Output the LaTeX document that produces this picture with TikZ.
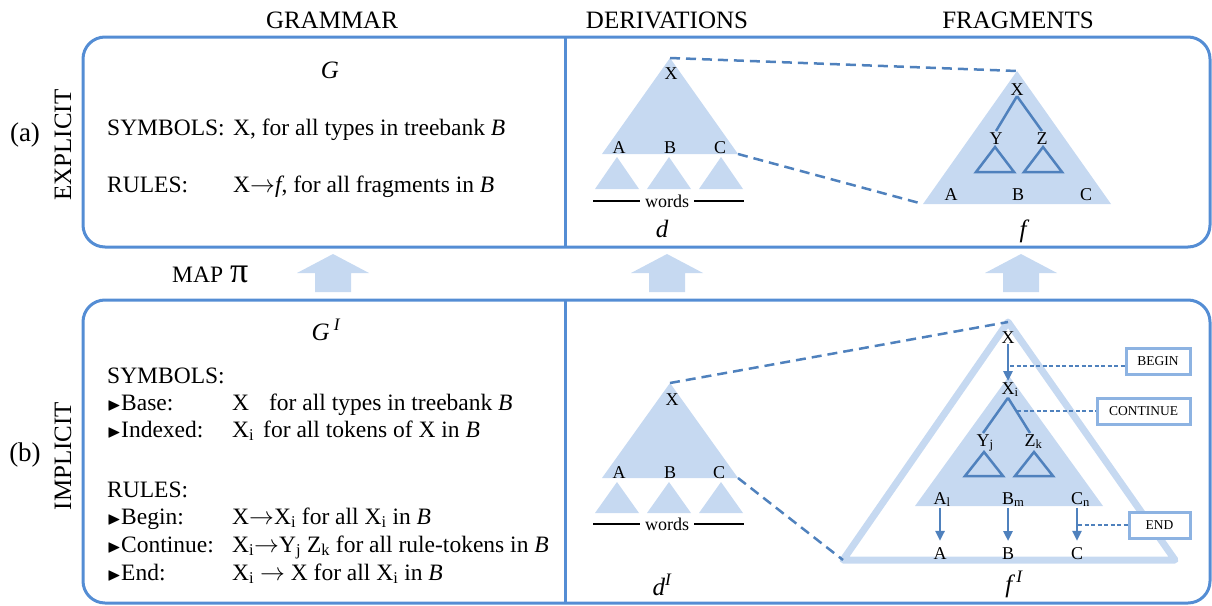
\documentclass[tikz,border=0pt]{standalone}
\usepackage{amssymb}
\usepackage{fontspec}
\setmainfont{Liberation Serif}
\usetikzlibrary{arrows.meta}
\definecolor{boxblue}{HTML}{548DD4}
\definecolor{lineblue}{HTML}{4F81BD}
\definecolor{lightblue}{HTML}{C6D9F1}
\definecolor{tagblue}{HTML}{8DB3E2}
\newcommand{\bul}{{\fontsize{18}{18}\selectfont$\blacktriangleright$}}
\newcommand{\rarr}{{\fontsize{23}{23}\selectfont$\rightarrow$}}

\begin{document}
\begin{tikzpicture}[x=1pt, y=-1pt, font=\fontsize{23.5}{28}\selectfont,
    panel/.style={draw=boxblue, line width=3pt, rounded corners=22pt},
    coltitle/.style={font=\fontsize{25}{30}\selectfont, anchor=base},
    rowlbl/.style={font=\fontsize{27}{30}\selectfont},
    sidelbl/.style={font=\fontsize{25}{30}\selectfont, rotate=90},
    txt/.style={anchor=base west, inner sep=0pt},
    ital/.style={font=\fontsize{25}{30}\selectfont\itshape, anchor=base},
    lbl/.style={font=\fontsize{18}{21}\selectfont, anchor=base, inner sep=1pt},
    tag/.style={draw=tagblue, line width=3pt, fill=white, font=\fontsize{13.5}{15}\selectfont,
      anchor=east, minimum height=26pt, inner sep=2pt},
    zoomline/.style={draw=lineblue, line width=2.5pt, dash pattern=on 10pt off 6pt},
    tagline/.style={draw=lineblue, line width=1.5pt, dash pattern=on 4pt off 2.5pt},
    branch/.style={draw=lineblue, line width=2.5pt},
    flow/.style={branch, -{Triangle[length=10pt, width=9pt]}},
    subtree/.style={draw=lineblue, line width=2.5pt}]
  \useasboundingbox (0,0) rectangle (1212,605);
  % Panels and column split
  \draw[panel] (83,37) rectangle (1210,247);
  \draw[panel] (83,300) rectangle (1210,603);
  \draw[boxblue, line width=3pt] (565,37) -- (565,247);
  \draw[boxblue, line width=3pt] (565,300) -- (565,603);
  % Column titles
  \node[coltitle] (tgram) at (332,28)  {GRAMMAR};
  \node[coltitle] (tderiv) at (667,28) {DERIVATIONS};
  \node[coltitle] (tfrag) at (1018,28) {FRAGMENTS};
  % Row labels
  \node[rowlbl] (rowa) at (25,135) {(a)};
  \node[rowlbl] (rowb) at (25,455) {(b)};
  \node[sidelbl] (sidea) at (63,145) {EXPLICIT};
  \node[sidelbl] (sideb) at (63,456) {IMPLICIT};
  % Explicit grammar
  \node[ital] (gram) at (330,78) {G};
  \node[txt] (symtop) at (107,135) {SYMBOLS:};
  \node[txt] (symtopdef) at (233,135) {X, for all types in treebank \textit{B}};
  \node[txt] (ruletop) at (107,192) {RULES:};
  \node[txt] (ruletopdef) at (233,192) {X\rarr\textit{f}, for all fragments in \textit{B}};
  % Implicit grammar
  \node[ital] (gramimp) at (326,340) {G\,\textsuperscript{I}};
  \node[txt] (symhead) at (107,383) {SYMBOLS:};
  \node[txt] (symbase) at (107,410) {\bul Base:};
  \node[txt] (symbasedef) at (232,410) {X\hspace{20pt}for all types in treebank \textit{B}};
  \node[txt] (symidx) at (107,437) {\bul Indexed:};
  \node[txt] (symidxdef) at (232,437) {X\textsubscript{i}\hspace{9pt}for all tokens of X in \textit{B}};
  \node[txt] (rulehead) at (107,497) {RULES:};
  \node[txt] (rulebegin) at (107,524) {\bul Begin:};
  \node[txt] (rulebegindef) at (232,524) {X\rarr X\textsubscript{i} for all X\textsubscript{i} in \textit{B}};
  \node[txt] (rulecont) at (107,552) {\bul Continue:};
  \node[txt] (rulecontdef) at (232,552) {X\textsubscript{i}\rarr Y\textsubscript{j} Z\textsubscript{k} for all rule-tokens in \textit{B}};
  \node[txt] (ruleend) at (107,580) {\bul End:};
  \node[txt] (ruleenddef) at (232,580) {X\textsubscript{i} \rarr{} X for all X\textsubscript{i} in \textit{B}};
  % Map arrows
  \node[txt] (maplbl) at (172,282) {MAP\hspace{7pt}{\fontsize{36}{36}\selectfont π}};
  \foreach \ax in {333,667,1021} {
    \fill[lightblue] (\ax-36,273) -- (\ax,254) -- (\ax+36,273) -- (\ax+18,273)
      -- (\ax+18,292) -- (\ax-18,292) -- (\ax-18,273) -- cycle;
  }
  % Explicit derivation
  \coordinate (dtop) at (670,58);
  \coordinate (dright) at (738,154);
  \fill[lightblue] (602,154) -- (dtop) -- (dright) -- cycle;
  \foreach \sx in {617,669,721} {
    \fill[lightblue] (\sx-22,189) -- (\sx,157) -- (\sx+22,189) -- cycle;
  }
  \node[lbl] (dx) at (671,79) {X};
  \node[lbl] (da) at (619,153) {A};
  \node[lbl] (db) at (670,153) {B};
  \node[lbl] (dc) at (720,153) {C};
  \node[lbl, inner sep=5pt] (dwords) at (667,207) {words};
  \coordinate (dwl) at (593,201);
  \coordinate (dwr) at (744,201);
  \draw[line width=1.5pt] (dwl) -- (dwl -| dwords.west);
  \draw[line width=1.5pt] (dwords.east |- dwr) -- (dwr);
  \node[ital] (dlbl) at (662,237) {d};
  % Explicit fragment
  \coordinate (ftop) at (1017,71);
  \coordinate (fleft) at (923,204);
  \fill[lightblue] (fleft) -- (ftop) -- (1111,204) -- cycle;
  \node[lbl] (fx) at (1017,95) {X};
  \node[lbl] (fy) at (996,144) {Y};
  \node[lbl] (fz) at (1042,144) {Z};
  \draw[branch] (fx.south) -- (fy.north);
  \draw[branch] (fx.south) -- (fz.north);
  \foreach \sx in {995,1043} {
    \draw[subtree] (\sx-19,172) -- (\sx,147) -- (\sx+19,172) -- cycle;
  }
  \node[lbl] (fa) at (951,200) {A};
  \node[lbl] (fb) at (1018,200) {B};
  \node[lbl] (fc) at (1086,200) {C};
  \node[ital] (flbl) at (1023,237) {f};
  \draw[zoomline] (dtop) -- (ftop);
  \draw[zoomline] (dright) -- (fleft);
  % Implicit derivation
  \coordinate (btop) at (670,383);
  \coordinate (bright) at (738,478);
  \fill[lightblue] (602,478) -- (btop) -- (bright) -- cycle;
  \foreach \sx in {617,669,721} {
    \fill[lightblue] (\sx-22,513) -- (\sx,482) -- (\sx+22,513) -- cycle;
  }
  \node[lbl] (bx) at (672,405) {X};
  \node[lbl] (ba) at (619,478) {A};
  \node[lbl] (bb) at (670,478) {B};
  \node[lbl] (bc) at (719,478) {C};
  \node[lbl, inner sep=5pt] (bwords) at (667,530) {words};
  \coordinate (bwl) at (593,524);
  \coordinate (bwr) at (744,524);
  \draw[line width=1.5pt] (bwl) -- (bwl -| bwords.west);
  \draw[line width=1.5pt] (bwords.east |- bwr) -- (bwr);
  \node[ital] (blbl) at (662,595) {d\textsuperscript{I}};
  % Implicit fragment
  \coordinate (gtop) at (1008,322);
  \coordinate (gleft) at (843,560);
  \draw[lightblue, line width=7pt, line join=round] (gleft) -- (gtop) -- (1175,560) -- cycle;
  \fill[lightblue] (915,506) -- (1009,376) -- (1103,506) -- cycle;
  \node[lbl] (gx) at (1008,343) {X};
  \node[lbl] (gxi) at (1008,394) {X\rlap{\textsubscript{i}}};
  \draw[flow] (gx.south) -- (gxi.north);
  \node[lbl] (gyj) at (983,446) {Y\rlap{\textsubscript{j}}};
  \node[lbl] (gzk) at (1030,446) {Z\rlap{\textsubscript{k}}};
  \draw[branch] (gxi.south) -- (gyj.north);
  \draw[branch] (gxi.south) -- (gzk.north);
  \foreach \sx in {984,1034} {
    \draw[subtree] (\sx-19,476) -- (\sx,452) -- (\sx+19,476) -- cycle;
  }
  \node[lbl] (gal) at (940,504) {A\rlap{\textsubscript{l}}};
  \node[lbl] (gbm) at (1008,504) {B\rlap{\textsubscript{m}}};
  \node[lbl] (gcn) at (1077,504) {C\rlap{\textsubscript{n}}};
  \node[lbl] (ga) at (940,559) {A};
  \node[lbl] (gb) at (1008,559) {B};
  \node[lbl] (gc) at (1077,559) {C};
  \draw[flow, shorten >=5pt] (gal.south) -- (ga.north);
  \draw[flow, shorten >=5pt] (gbm.south) -- (gb.north);
  \draw[flow, shorten >=5pt] (gcn.south) -- (gc.north);
  \node[ital] (glbl) at (1014,592) {f\,\textsuperscript{I}};
  \draw[zoomline] (btop) -- (gtop);
  \draw[zoomline] (bright) -- (gleft);
  % Rule tags
  \node[tag, minimum width=64pt] (tbegin) at (1191.5,361.5) {BEGIN};
  \node[tag, minimum width=93pt] (tcont) at (1191.5,411.5) {CONTINUE};
  \node[tag, minimum width=61pt] (tend) at (1191.5,525) {END};
  \coordinate (pbegin) at (1010,366);
  \coordinate (pcont) at (1017,411);
  \coordinate (pend) at (1078,525);
  \draw[tagline] (pbegin) -- (pbegin -| tbegin.west);
  \draw[tagline] (pcont) -- (pcont -| tcont.west);
  \draw[tagline] (pend) -- (pend -| tend.west);
\end{tikzpicture}
\end{document}
